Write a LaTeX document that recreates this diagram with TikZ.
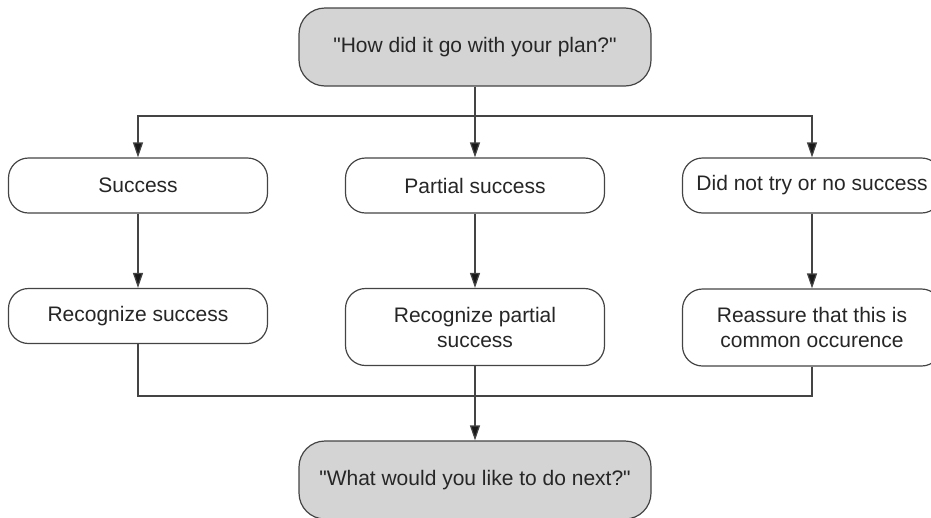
\documentclass[tikz,border=0pt]{standalone}
\usepackage{fontspec}
\setmainfont{Liberation Sans}[Ligatures=TeXOff]
\usetikzlibrary{arrows.meta}
\definecolor{boxgray}{HTML}{D4D4D4}
\definecolor{linegray}{HTML}{444444}
\begin{document}
\begin{tikzpicture}[x=1pt,y=-1pt,
  box/.style={draw=linegray, line width=1.2pt, fill=white, rounded corners=20pt,
    minimum width=259pt, minimum height=55pt, align=center, inner sep=0pt,
    font=\fontsize{21}{25}\selectfont, text=black!85},
  bigbox/.style={box, fill=boxgray, rounded corners=26pt, minimum width=352pt, minimum height=78pt},
  conn/.style={draw=linegray, line width=1.2pt},
  arr/.style={conn, -{Triangle[width=10pt,length=15pt,fill=black!90]}}]
\useasboundingbox (0,0) rectangle (931,517);
\clip (0,0) rectangle (931,517);
\node[bigbox] (top) at (475,47) {"How did it go with your plan?"};
\node[box] (succ) at (138,185.5) {Success};
\node[box] (part) at (475,185.5) {Partial success};
\node[box] (dnt) at (812,185.5) {Did not try or no success};
\node[box] (rs) at (138,316) {Recognize success};
\node[box, minimum height=77pt] (rp) at (475,327) {Recognize partial\\success};
\node[box, minimum height=77pt] (rea) at (812,327.5) {Reassure that this is\\common occurence};
\node[bigbox] (bot) at (475,480) {"What would you like to do next?"};
\coordinate (j1) at (475,116);
\coordinate (j2) at (475,396);
\draw[conn] (top.south) -- (j1);
\draw[arr] (j1) -| (succ.north);
\draw[arr] (j1) -- (part.north);
\draw[arr] (j1) -| (dnt.north);
\draw[arr] (succ.south) -- (rs.north);
\draw[arr] (part.south) -- (rp.north);
\draw[arr] (dnt.south) -- (rea.north);
\draw[conn] (rs.south) |- (j2);
\draw[conn] (rea.south) |- (j2);
\draw[arr] (rp.south) -- (bot.north);
\end{tikzpicture}
\end{document}
